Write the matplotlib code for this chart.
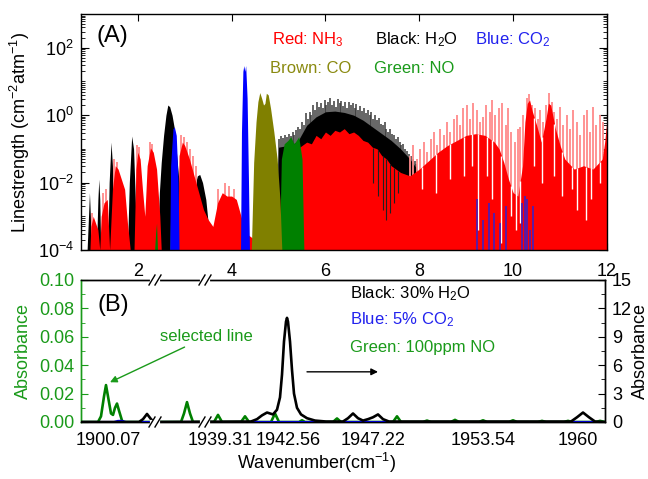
import numpy as np
import matplotlib
matplotlib.use('Agg')
import matplotlib.pyplot as plt
from matplotlib import transforms
from matplotlib.ticker import FixedLocator, LogLocator, MultipleLocator, NullFormatter, FormatStrFormatter, LogFormatterMathtext

plt.rcParams['font.family'] = ['Liberation Sans', 'DejaVu Sans']
plt.rcParams['mathtext.fontset'] = 'custom'
plt.rcParams['mathtext.rm'] = 'Liberation Sans'
plt.rcParams['mathtext.it'] = 'Liberation Sans:italic'
plt.rcParams['mathtext.bf'] = 'Liberation Sans:bold'

# ---------------- Panel A data: wavelength (um) and log10 linestrength ----------------
h2o_x = [0.80, 0.92, 0.95, 0.97, 0.99, 1.01, 1.12, 1.15, 1.17, 1.19, 1.21, 1.36, 1.39, 1.43, 1.46, 1.49, 1.51,
         1.78, 1.82, 1.87, 1.91, 1.95, 1.97, 2.42, 2.46, 2.50, 2.55, 2.60, 2.64, 2.68, 2.73, 2.78, 2.83, 2.88, 2.92,
         3.15, 3.20, 3.27, 3.32, 3.38, 3.45, 3.50, 3.55,
         4.93, 5.0, 5.2, 5.4, 5.6, 5.8, 6.0, 6.2, 6.4, 6.6, 6.8, 7.0, 7.2, 7.4, 7.6, 7.8, 7.95, 8.0, 12.0]
h2o_log = [-4, -4, -3.0, -2.3, -3.0, -4, -4, -2.5, -1.9, -2.5, -4, -4, -2.0, -0.8, -1.5, -3.0, -4,
           -4, -2.0, -0.62, -1.0, -2.6, -4, -4, -2.3, -1.4, -0.6, 0.0, 0.3, 0.25, 0.0, -0.4, -1.2, -2.0, -4,
           -4, -2.2, -1.8, -1.76, -2.0, -2.5, -3.2, -4,
           -4, -0.95, -0.9, -0.8, -0.3, -0.05, 0.1, 0.12, 0.08, 0.0, -0.15, -0.35, -0.55, -0.75, -1.0, -1.3, -1.6, -4, -4]
h2o_spike_x = [5.02, 5.06, 5.10, 5.14, 5.18, 5.22, 5.26, 5.30, 5.34, 5.38, 5.42, 5.46, 5.50, 5.54, 5.58, 5.62,
               5.66, 5.70, 5.74, 5.78, 5.82, 5.86, 5.90, 5.94, 5.98, 6.02, 6.06, 6.10, 6.14, 6.18, 6.22, 6.26,
               6.30, 6.34, 6.38, 6.42, 6.46, 6.50, 6.54, 6.58, 6.62, 6.66, 6.70, 6.74, 6.78, 6.82, 6.86, 6.90,
               6.94, 6.98, 7.02, 7.06, 7.10, 7.14, 7.18, 7.22, 7.26, 7.30, 7.34, 7.38, 7.42, 7.46, 7.50, 7.54,
               7.58, 7.62, 7.66, 7.70, 7.74, 7.78, 7.82, 7.86, 7.90, 7.94]
h2o_spike_log = [-0.7, -0.62, -0.68, -0.6, -0.66, -0.55, -0.62, -0.5, -0.58, -0.45, -0.35, -0.4, -0.2, -0.3, 0.05, -0.1,
                 0.1, 0.0, 0.3, 0.15, 0.4, 0.25, 0.35, 0.2, 0.45, 0.3, 0.38, 0.5, 0.3, 0.42, 0.25, 0.48,
                 0.35, 0.42, 0.28, 0.4, 0.2, 0.38, 0.3, 0.35, 0.2, 0.32, 0.15, 0.28, 0.12, 0.2, 0.05, 0.15,
                 0.0, 0.08, -0.1, 0.0, -0.15, -0.08, -0.25, -0.3, -0.2, -0.4, -0.5, -0.42, -0.55, -0.6, -0.7, -0.65,
                 -0.8, -0.9, -0.85, -1.0, -1.05, -1.15, -1.2, -1.3, -1.35, -1.45]
h2o_deep_x = [7.02, 7.12, 7.22, 7.30, 7.38, 7.46, 7.55]
h2o_deep_lo = [-2.0, -2.4, -2.8, -3.1, -2.9, -2.6, -2.3]

nh3_x = [0.79, 0.98, 1.00, 1.05, 1.10, 1.15, 1.19, 1.22, 1.28, 1.35, 1.40, 1.46, 1.52, 1.58, 1.65, 1.72, 1.78,
         1.84, 1.92, 1.96, 2.00, 2.05, 2.10, 2.15, 2.20, 2.27, 2.33, 2.40, 2.47, 2.50, 2.85, 2.88, 2.95, 3.00,
         3.10, 3.20, 3.30, 3.40, 3.50, 3.60, 3.70, 3.80, 3.90, 4.00, 4.10, 4.20, 4.30, 4.40, 4.60, 4.80, 5.00,
         5.15, 5.20, 5.30, 5.40, 5.50, 5.60, 5.70, 5.80, 5.90, 6.00, 6.10, 6.20, 6.30, 6.40, 6.50, 6.60, 6.70,
         6.80, 6.90, 7.00, 7.10, 7.20, 7.30, 7.40, 7.50, 7.60, 7.70, 7.80, 8.00, 8.20, 8.40, 8.60, 8.80, 9.00,
         9.20, 9.40, 9.60, 9.70, 9.80, 9.90, 10.00, 10.10, 10.20, 10.25, 10.30, 10.35, 10.40, 10.50, 10.60,
         10.70, 10.75, 10.80, 10.90, 11.00, 11.10, 11.30, 11.50, 11.70, 11.90, 11.95, 12.00]
nh3_log = [-4, -4, -3.3, -3.0, -3.2, -3.4, -4, -3.0, -2.6, -2.5, -4, -2.2, -1.5, -1.6, -1.9, -2.2, -3.2,
           -4, -4, -1.6, -1.1, -1.3, -2.2, -3.0, -1.5, -0.97, -1.1, -1.6, -3.0, -4, -4, -1.2, -0.8, -0.9,
           -1.3, -1.8, -2.3, -2.8, -3.1, -3.3, -2.6, -2.3, -2.4, -2.4, -2.5, -3.0, -3.5, -3.6, -3.8, -3.8, -3.7,
           -4, -2.5, -1.3, -1.0, -0.9, -0.8, -0.85, -0.6, -0.7, -0.5, -0.6, -0.45, -0.5, -0.4, -0.55, -0.5, -0.6,
           -0.75, -0.8, -0.95, -1.0, -1.2, -1.3, -1.5, -1.6, -1.7, -1.75, -1.8, -1.6, -1.35, -1.1, -0.9, -0.75, -0.6,
           -0.55, -0.6, -0.8, -1.0, -1.4, -1.9, -2.3, -2.4, -1.5, -0.2, 0.35, 0.45, 0.15, -0.3, -0.8,
           -0.1, 0.35, 0.3, -0.4, -0.9, -1.3, -1.6, -1.5, -1.6, -1.3, -0.8, -0.1]
nh3_dip_x = [8.05, 8.35, 8.65, 8.95, 9.12, 9.25, 9.45, 9.55, 9.75, 9.95, 10.05, 10.15, 10.45, 10.62, 10.88,
             11.05, 11.25, 11.35, 11.55, 11.65, 11.85]
nh3_dip_log = [-2.2, -2.3, -1.9, -1.8, -1.5, -3.4, -1.8, -2.5, -3.8, -3.0, -3.4, -3.2, -1.5, -2.0, -1.8,
               -2.4, -2.2, -2.8, -3.1, -2.5, -2.0]
nh3_spike_x = [1.03, 1.25, 1.32, 1.50, 1.56, 1.98, 2.02, 2.25, 2.30, 2.93, 2.98, 3.05, 3.12, 3.18, 3.25,
               3.72, 3.85, 3.95, 4.05,
               7.80, 7.87, 7.95, 8.02, 8.10, 8.17, 8.24, 8.31, 8.38, 8.45, 8.52, 8.59, 8.66, 8.73, 8.80, 8.87,
               8.94, 9.01, 9.08, 9.15, 9.22, 9.29, 9.36, 9.43, 9.50, 9.55, 9.62, 9.70, 9.77, 9.84, 9.90, 9.96,
               10.03, 10.10, 10.15, 10.22, 10.30, 10.34, 10.40, 10.47, 10.52, 10.57, 10.63, 10.70, 10.77, 10.82,
               10.88, 10.94, 11.00, 11.07, 11.14, 11.21, 11.28, 11.35, 11.42, 11.50, 11.57, 11.63, 11.70, 11.77,
               11.85, 11.92]
nh3_spike_log = [-2.9, -2.3, -2.2, -1.3, -1.4, -0.9, -0.95, -0.8, -0.85, -0.6, -0.65, -0.8, -1.0, -1.2, -1.5,
                 -2.2, -2.0, -2.1, -2.2,
                 -1.2, -0.9, -1.3, -1.0, -0.8, -1.1, -0.7, -0.5, -0.9, -0.4, -0.6, -0.2, -0.5, -0.1, 0.0, -0.3,
                 0.2, 0.3, -0.1, 0.35, 0.15, -0.2, -0.05, 0.3, 0.1, 0.44, 0.0, 0.2, 0.35, -0.3, 0.2, -0.5,
                 -0.8, -0.4, -0.35, 0.0, 0.5, 0.62, 0.3, 0.2, -0.1, 0.15, -0.2, 0.3, 0.65, 0.4,
                 0.1, -0.1, 0.23, -0.3, 0.0, -0.4, 0.15, -0.2, -0.6, 0.0, 0.15, -0.5, 0.23, -0.3,
                 0.0, -0.2]

co2_x = [2.68, 2.70, 2.75, 2.78, 2.82, 2.86, 2.88, 4.19, 4.21, 4.24, 4.26, 4.28, 4.30, 4.33, 4.36, 4.38]
co2_log = [-4, -1.5, -0.4, -0.35, -0.6, -2.0, -4, -4, -0.5, 1.3, 1.47, 1.3, 1.47, 0.5, -2.0, -4]
co2_weak_x = [9.22, 9.35, 9.48, 9.60, 9.72, 9.85, 10.18, 10.25, 10.30, 10.36, 10.42]
co2_weak_log = [-2.5, -3.1, -2.6, -2.9, -3.2, -2.7, -2.6, -2.4, -2.5, -3.4, -2.7]

co_x = [4.42, 4.47, 4.52, 4.56, 4.60, 4.64, 4.68, 4.71, 4.74, 4.78, 4.83, 4.90, 4.97, 5.03, 5.07]
co_log = [-4, -1.4, -0.2, 0.4, 0.67, 0.5, 0.3, 0.35, 0.65, 0.6, 0.2, -0.5, -1.3, -2.5, -4]

no_x = [2.36, 2.38, 2.40, 2.42, 2.68, 2.70, 2.74, 2.78, 2.80, 5.02, 5.06, 5.12, 5.20, 5.26, 5.33, 5.38, 5.43, 5.50, 5.54]
no_log = [-4, -3.5, -3.2, -4, -4, -3.0, -2.6, -2.8, -4, -4, -1.3, -0.85, -0.75, -0.64, -0.85, -0.75, -0.64, -1.3, -4]

xticksA = [2, 4, 6, 8, 10, 12]

# ---------------- Panel B data: position along broken axis and absorbance ----------------
b_tick_pos = [27, 139, 207, 292, 402, 497]
b_tick_labels = ['1900.07', '1939.31', '1942.56', '1947.22', '1953.54', '1960']
b_breaks = [74, 124]

h2o_b_pos = [0, 58, 62, 66, 70, 73, 170, 176, 181, 186, 192, 196, 199, 201, 203, 205, 206, 207, 209, 211,
             213, 216, 220, 226, 234, 245, 262, 267, 272, 277, 282, 287, 292, 297, 302, 308,
             490, 496, 502, 508, 514, 524]
h2o_b_val = [0, 0, 0.3, 0.85, 0.3, 0, 0.05, 0.3, 0.7, 1.0, 0.8, 1.3, 2.6, 5.0, 8.5, 10.6, 11.0, 10.6, 8.5, 5.5,
             3.0, 1.5, 0.8, 0.4, 0.15, 0.05, 0.05, 0.4, 0.9, 0.4, 0.15, 0.3, 0.5, 0.8, 0.3, 0.05,
             0.05, 0.5, 1.0, 0.5, 0.05, 0]

co2_b_pos = [0, 33, 37, 41, 45, 524]
co2_b_val = [0, 0, 0.12, 0.12, 0, 0]

no_b_pos = [0, 17, 20, 23, 25, 27, 30, 32, 34, 36, 38, 41, 43, 100, 103, 106, 109, 112,
            133, 137, 141, 160, 164, 168, 190, 194, 198, 218, 221, 224, 252, 256, 260, 312, 316, 320,
            342, 346, 350, 370, 374, 378, 398, 402, 406, 428, 432, 436, 457, 461, 465, 483, 487, 491,
            515, 519, 524]
no_b_val = [0, 0, 0.004, 0.018, 0.026, 0.018, 0.006, 0.005, 0.010, 0.013, 0.008, 0.001, 0, 0, 0.006, 0.014, 0.006, 0,
            0, 0.005, 0, 0, 0.004, 0, 0, 0.006, 0, 0, 0.0012, 0, 0, 0.0025, 0, 0, 0.004, 0,
            0, 0.001, 0, 0, 0.0015, 0, 0, 0.0012, 0, 0, 0.0012, 0, 0, 0.0008, 0, 0, 0.0008, 0,
            0, 0.0008, 0]

RED = '#ff0000'
PINK = '#ff8a8a'
BLUE = '#0000ff'
BROWN = '#808000'
GREEN = '#008000'
GTEXT = '#1a9a1a'
BTEXT = '#2222ee'

fig = plt.figure(figsize=(6.48, 4.79), dpi=100)
axA = fig.add_axes([81/648, 1-250/479, 526/648, 236/479])
axB = fig.add_axes([81/648, 1-422/479, 524/648, 142/479])
axB2 = axB.twinx()

FLOOR = 1e-4
def pw(v):
    return 10.0 ** np.asarray(v, dtype=float)

# ---- Panel A ----
axA.set_yscale('log')
axA.vlines(h2o_spike_x, FLOOR, pw(h2o_spike_log), color='#3a3a3a', lw=1.1, zorder=0.9)
axA.fill_between(h2o_x, FLOOR, pw(h2o_log), color='black', lw=0, zorder=1)
axA.vlines(nh3_spike_x, FLOOR, pw(nh3_spike_log), color=PINK, lw=1.3, zorder=2)
axA.fill_between(nh3_x, FLOOR, pw(nh3_log), color=RED, lw=0, zorder=3)
axA.vlines(nh3_dip_x, pw(nh3_dip_log), pw(np.interp(nh3_dip_x, nh3_x, nh3_log)),
           color='white', lw=1.0, zorder=3.2)
axA.vlines(h2o_deep_x, pw(h2o_deep_lo), pw(np.interp(h2o_deep_x, nh3_x, nh3_log)),
           color='#202020', lw=0.8, zorder=3.5)
axA.fill_between(no_x, FLOOR, pw(no_log), color=GREEN, lw=0, zorder=4)
axA.fill_between(co_x, FLOOR, pw(co_log), color=BROWN, lw=0, zorder=5)
axA.fill_between(co2_x, FLOOR, pw(co2_log), color=BLUE, lw=0, zorder=6)
axA.vlines(co2_weak_x, FLOOR, pw(co2_weak_log), color='#4020c0', lw=1.2, zorder=6)

axA.set_xlim(0.79, 12)
axA.set_ylim(1e-4, 1e3)
axA.xaxis.set_major_locator(FixedLocator(xticksA))
axA.yaxis.set_major_locator(FixedLocator([1e-4, 1e-2, 1e0, 1e2]))
axA.yaxis.set_major_formatter(LogFormatterMathtext())
axA.yaxis.set_minor_locator(LogLocator(base=10, subs=np.arange(1, 10), numticks=20))
axA.yaxis.set_minor_formatter(NullFormatter())
axA.tick_params(axis='both', which='both', direction='in', top=True, right=True, labelsize=13)
axA.tick_params(axis='x', which='major', pad=9, length=5)
axA.tick_params(axis='y', which='major', length=6, pad=5)
axA.tick_params(axis='y', which='minor', length=3)
axA.set_ylabel('Linestrength (cm$^{-2}$atm$^{-1}$)', fontsize=13)
axA.yaxis.set_label_coords(-0.093, 0.5)
for s in axA.spines.values():
    s.set_linewidth(1.0)
    s.set_zorder(8)

axA.text(0.030, 0.905, '(A)', transform=axA.transAxes, fontsize=17, va='center', ha='left')
axA.text(0.363, 0.89, 'Red: NH$_3$', transform=axA.transAxes, fontsize=12, color=RED, va='center')
axA.text(0.559, 0.89, 'Black: H$_2$O', transform=axA.transAxes, fontsize=12, color='black', va='center')
axA.text(0.749, 0.89, 'Blue: CO$_2$', transform=axA.transAxes, fontsize=12, color=BTEXT, va='center')
axA.text(0.359, 0.771, 'Brown: CO', transform=axA.transAxes, fontsize=12, color='#8a8a10', va='center')
axA.text(0.557, 0.771, 'Green: NO', transform=axA.transAxes, fontsize=12, color=GTEXT, va='center')

# ---- Panel B ----
axB.plot(no_b_pos, no_b_val, color=GREEN, lw=1.9, zorder=3)
axB2.plot(co2_b_pos, co2_b_val, color=BLUE, lw=1.5, zorder=2)
axB2.plot(h2o_b_pos, h2o_b_val, color='black', lw=1.9, zorder=3)

axB.set_xlim(0, 524)
axB.set_ylim(0, 0.10)
axB2.set_ylim(0, 15)
axB.xaxis.set_major_locator(FixedLocator(b_tick_pos))
axB.set_xticklabels(b_tick_labels)
axB.tick_params(axis='x', which='both', length=0, pad=7, labelsize=13)
axB.yaxis.set_major_locator(MultipleLocator(0.02))
axB.yaxis.set_minor_locator(MultipleLocator(0.01))
axB.yaxis.set_major_formatter(FormatStrFormatter('%.2f'))
axB.tick_params(axis='y', which='both', direction='in', colors=GTEXT, labelsize=13, pad=5)
axB.tick_params(axis='y', which='major', length=5)
axB.tick_params(axis='y', which='minor', length=3)
axB2.yaxis.set_major_locator(MultipleLocator(3))
axB2.yaxis.set_minor_locator(MultipleLocator(1.5))
axB2.tick_params(axis='y', which='both', direction='in', labelsize=13, pad=5)
axB2.tick_params(axis='y', which='major', length=5)
axB2.tick_params(axis='y', which='minor', length=3)
axB.set_ylabel('Absorbance', fontsize=13, color=GTEXT)
axB.yaxis.set_label_coords(-0.0935, 0.5)
axB2.set_ylabel('Absorbance', fontsize=13, color='black')
axB2.yaxis.set_label_coords(1.052, 0.5)
axB2.spines['left'].set_color(GTEXT)
axB.spines['left'].set_color(GTEXT)
for a in (axB, axB2):
    for s in a.spines.values():
        s.set_linewidth(1.0)

# broken-axis marks (x in data units = pixels, y in axes fraction)
btrans = transforms.blended_transform_factory(axB.transData, axB.transAxes)
dy = 5.0 / 142
for c in b_breaks:
    for yb in (0.0, 1.0):
        axB2.plot([c - 3, c + 3], [yb, yb], transform=btrans, color='white', lw=3, zorder=10, clip_on=False)
        for off in (-3, 3):
            axB2.plot([c + off - 3, c + off + 3], [yb - dy, yb + dy], transform=btrans,
                      color='black', lw=1.0, zorder=11, clip_on=False)

axB.text(0.031, 0.824, '(B)', transform=axB.transAxes, fontsize=17, va='center', ha='left')
axB.text(0.513, 0.901, 'Black: 30% H$_2$O', transform=axB.transAxes, fontsize=12, color='black', va='center')
axB.text(0.513, 0.718, 'Blue: 5% CO$_2$', transform=axB.transAxes, fontsize=12, color=BTEXT, va='center')
axB.text(0.513, 0.528, 'Green: 100ppm NO', transform=axB.transAxes, fontsize=12, color=GTEXT, va='center')
axB.annotate('selected line', xy=(29, 0.028), xytext=(79, 0.060), fontsize=12, color=GTEXT,
             va='center', ha='left',
             arrowprops=dict(arrowstyle='-|>', color=GTEXT, lw=1.0, shrinkA=0, shrinkB=0, mutation_scale=10))
axB2.annotate('', xy=(297, 5.3), xytext=(226, 5.3),
              arrowprops=dict(arrowstyle='-|>', color='black', lw=1.0, shrinkA=0, shrinkB=0, mutation_scale=10))

fig.text(316/648, 1-463/479, 'Wavenumber(cm$^{-1}$)', fontsize=13, ha='center', va='center')

fig.savefig('out.png', dpi=100)
